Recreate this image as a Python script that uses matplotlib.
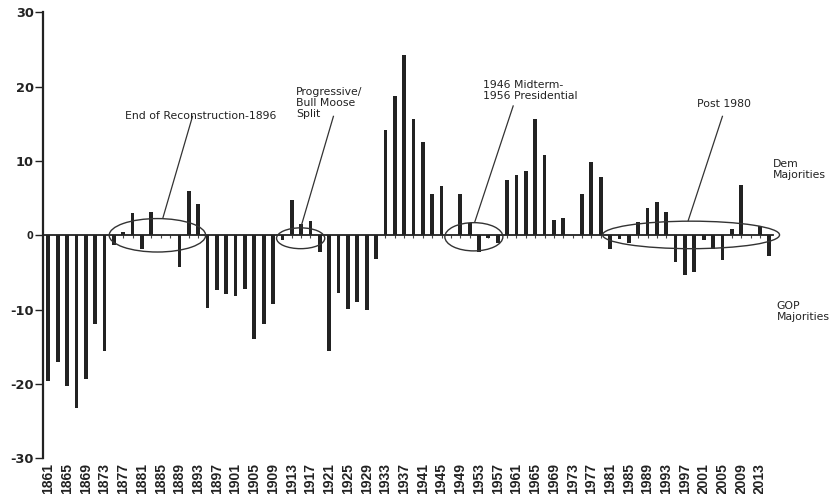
import matplotlib
matplotlib.use("Agg")
import matplotlib.pyplot as plt
from matplotlib.patches import Ellipse

plt.rcParams['axes.unicode_minus'] = False

# ---- data ----
years = list(range(1861, 2017, 2))
values = [
    -19.6, -17.1, -20.3, -23.2, -19.4, -12.0, -15.5, -1.3, 0.4, 3.0,
    -1.8, 3.2, 0.0, 0.0, -4.3, 5.9, 4.2, -9.8, -7.3, -7.9,
    -8.2, -7.2, -13.9, -11.9, -9.3, -0.7, 4.7, 1.5, 1.9, -2.3,
    -15.6, -7.8, -9.9, -9.0, -10.0, -3.2, 14.2, 18.8, 24.2, 15.6,
    12.5, 5.5, 6.6, 0.0, 5.6, 1.7, -2.2, -0.4, -1.0, 7.5,
    8.1, 8.6, 15.7, 10.8, 2.0, 2.3, 0.1, 5.6, 9.8, 7.8,
    -1.9, -0.5, -1.1, 1.8, 3.7, 4.5, 3.2, -3.6, -5.3, -5.0,
    -0.6, -1.9, -3.3, 0.9, 6.8, 0.0, 1.2, -2.8,
]
label_years = years[::2]
y_ticks = [30, 20, 10, 0, -10, -20, -30]

# annotation groups: (ellipse center x, center y, width, height)
ellipses = [
    (1884.3, 0.0, 20.6, 4.5),
    (1914.9, -0.4, 10.3, 2.8),
    (1951.9, -0.2, 12.4, 3.8),
    (1998.3, 0.05, 37.8, 3.7),
]
leaders = [
    ((1885.5, 2.4), (1891.8, 16.0)),
    ((1915.0, 1.2), (1921.9, 16.0)),
    ((1952.1, 1.8), (1960.3, 17.4)),
    ((1997.7, 2.0), (2005.0, 16.0)),
]
notes = [
    ("End of Reconstruction-1896", 1877.4, 16.0, 'left'),
    ("Progressive/\nBull Moose\nSplit", 1913.9, 17.8, 'left'),
    ("1946 Midterm-\n1956 Presidential", 1953.9, 19.5, 'left'),
    ("Post 1980", 2005.4, 17.6, 'center'),
    ("Dem\nMajorities", 2015.85, 8.9, 'left'),
    ("GOP\nMajorities", 2016.6, -10.3, 'left'),
]

ink = '#222222'

fig = plt.figure(figsize=(8.3, 4.94), dpi=100)
ax = fig.add_axes([0.0522, 0.0723, 0.8791, 0.9028])

ax.bar(years, values, width=0.8, color=ink, zorder=2)

ax.set_xlim(1859.93, 2015.8)
ax.set_ylim(-30, 30)

ax.spines['top'].set_visible(False)
ax.spines['right'].set_visible(False)
ax.spines['bottom'].set_position(('data', 0))
ax.spines['left'].set_linewidth(1.6)
ax.spines['bottom'].set_linewidth(1.3)
ax.spines['left'].set_color(ink)
ax.spines['bottom'].set_color(ink)

ax.set_xticks(years)
ax.tick_params(axis='x', direction='out', length=2.2, width=0.8,
               color='#444444', labelbottom=False)
ax.set_yticks(y_ticks)
ax.set_yticklabels([str(v) for v in y_ticks])
ax.tick_params(axis='y', direction='out', length=5.5, width=1.0,
               color=ink, pad=1.5)
for lab in ax.get_yticklabels():
    lab.set_fontfamily('DejaVu Sans')
    lab.set_fontweight('bold')
    lab.set_fontsize(9.3)
    lab.set_color(ink)
    if lab.get_text() == '0':
        lab.set_fontsize(7)

sec = ax.secondary_xaxis(0.0)
sec.set_xticks(label_years)
sec.set_xticklabels([str(y) for y in label_years])
sec.tick_params(length=0, pad=3.5)
sec.spines['bottom'].set_visible(False)
for lab in sec.get_xticklabels():
    lab.set_rotation(90)
    lab.set_fontfamily(['Liberation Sans Narrow', 'Liberation Sans', 'DejaVu Sans'])
    lab.set_fontweight('bold')
    lab.set_fontsize(10)
    lab.set_color(ink)

for cx, cy, w, h in ellipses:
    ax.add_patch(Ellipse((cx, cy), w, h, fill=False, edgecolor='#333333',
                         lw=1.0, zorder=3, clip_on=False))
for (x1, y1), (x2, y2) in leaders:
    ax.plot([x1, x2], [y1, y2], color='#333333', lw=0.9, zorder=3,
            clip_on=False)
for txt, x, y, ha in notes:
    ax.text(x, y, txt, ha=ha, va='center', fontsize=7.8, color=ink,
            family='DejaVu Sans', linespacing=1.15)

fig.savefig('out.png', dpi=100)
